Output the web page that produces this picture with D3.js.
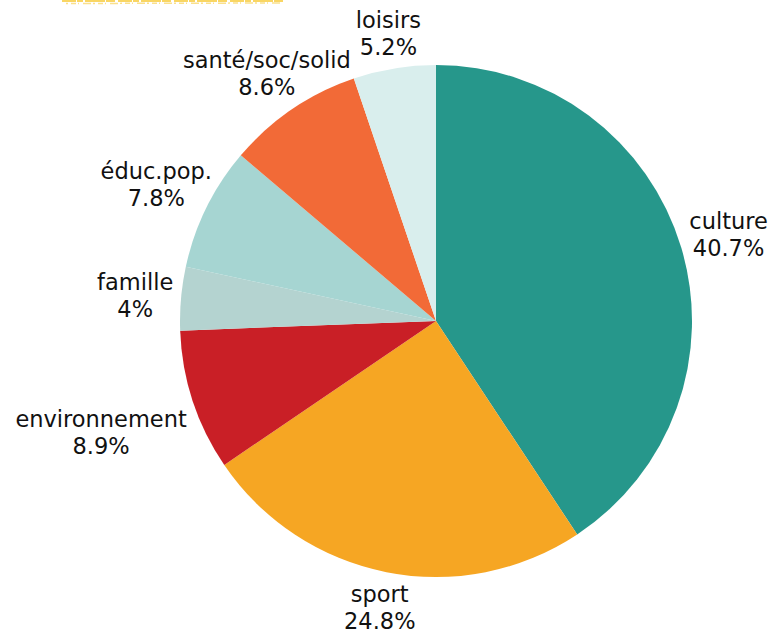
<!DOCTYPE html>
<html>
<head>
<meta charset="utf-8">
<script src="https://cdn.jsdelivr.net/npm/d3@7"></script>
<style>
  html, body { margin: 0; padding: 0; background: #ffffff; }
  svg { display: block; }
</style>
</head>
<body>
<script>
// data
const categories = ["culture", "sport", "environnement", "famille", "éduc.pop.", "santé/soc/solid", "loisirs"]
const shares     = [40.7, 24.8, 8.9, 4, 7.8, 8.6, 5.2]
const colors     = ["#26978B", "#F6A623", "#C91F26", "#B4D3D0", "#A6D5D2", "#F26A37", "#D9EEED"]

const width = 773, height = 635
const cx = 436, cy = 321, radius = 256
const gap = 8

const svg = d3.select("body").append("svg")
    .attr("width", width)
    .attr("height", height)

// faint yellow brush stroke cut off at the top edge
const brush = svg.append("g").style("opacity", 0.85)
brush.append("line")
    .attr("x1", 62).attr("x2", 285).attr("y1", 1).attr("y2", 1)
    .style("stroke", "#F8D04A")
    .style("stroke-width", 2)
    .style("stroke-dasharray", "14 1 6 2 20 1 9 3")
brush.append("line")
    .attr("x1", 66).attr("x2", 282).attr("y1", 3.5).attr("y2", 3)
    .style("stroke", "#FADB78")
    .style("stroke-width", 1.5)
    .style("stroke-dasharray", "2 3 5 2 1 4 8 2")

const data = categories.map((c, i) => ({ name: c, value: shares[i], color: colors[i] }))

const pie = d3.pie()
    .value(d => d.value)
    .sort(null)

const arc = d3.arc()
    .innerRadius(0)
    .outerRadius(radius)

const arcs = pie(data)

const g = svg.append("g").attr("transform", `translate(${cx},${cy})`)

g.selectAll("path.slice")
    .data(arcs)
    .join("path")
    .attr("class", "slice")
    .attr("d", arc)
    .style("fill", d => d.data.color)

// Labels: two lines, pushed out along the mid angle until every line clears the pie
const labels = g.selectAll("g.label")
    .data(arcs)
    .join("g")
    .attr("class", "label")

labels.append("text")
    .attr("y", -4)
    .text(d => d.data.name)
labels.append("text")
    .attr("y", 23)
    .text(d => (+d.data.value.toFixed(1)) + "%")

labels.selectAll("text")
    .attr("text-anchor", "middle")
    .style("font-family", "'DejaVu Sans', sans-serif")
    .style("font-size", "22.5px")
    .style("fill", "#111111")

labels.each(function(d){
    let a = (d.startAngle + d.endAngle) / 2
    let boxes = []
    d3.select(this).selectAll("text").each(function(){ boxes.push(this.getBBox()) })
    let r = radius
    let x = 0, y = 0
    for (; r < radius + 200; r += 0.5) {
        x = r * Math.sin(a)
        y = -r * Math.cos(a)
        let ok = boxes.every(b => {
            let x0 = x + b.x, x1 = x0 + b.width
            let y0 = y + b.y + 3, y1 = y0 + b.height - 6
            let nx = Math.max(x0, Math.min(0, x1))
            let ny = Math.max(y0, Math.min(0, y1))
            return Math.hypot(nx, ny) >= radius + gap
        })
        if (ok) break
    }
    d3.select(this).attr("transform", `translate(${x},${y})`)
})
</script>
</body>
</html>
